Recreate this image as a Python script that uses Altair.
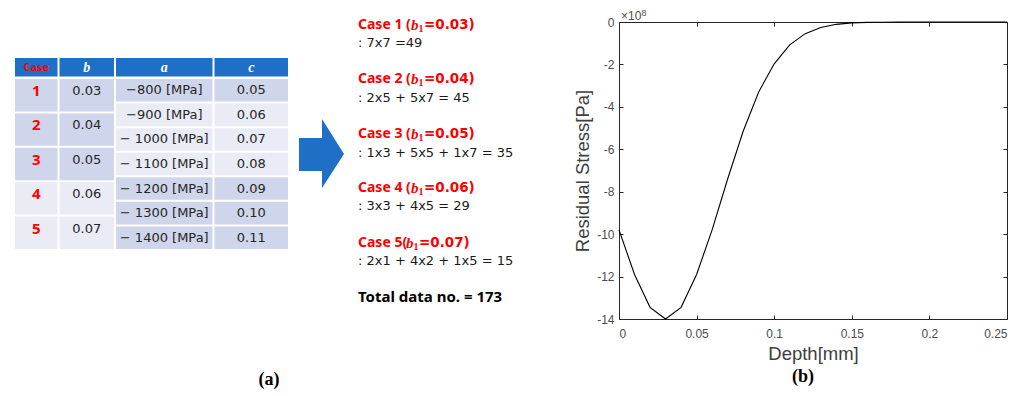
import altair as alt
import pandas as pd

# ------------------------------------------------------------------ data
headers = ["Case", "b", "a", "c"]
cases = ["1", "2", "3", "4", "5"]
b_vals = ["0.03", "0.04", "0.05", "0.06", "0.07"]
a_vals = ["−800 [MPa]", "−900 [MPa]", "− 1000 [MPa]", "− 1100 [MPa]",
          "− 1200 [MPa]", "− 1300 [MPa]", "− 1400 [MPa]"]
c_vals = ["0.05", "0.06", "0.07", "0.08", "0.09", "0.10", "0.11"]

case_titles = ["Case 1 (", "Case 2 (", "Case 3 (", "Case 4 (", "Case 5("]
b1_texts = ["=0.03)", "=0.04)", "=0.05)", "=0.06)", "=0.07)"]
case_formulas = [": 7x7 =49", ": 2x5 + 5x7 = 45", ": 1x3 + 5x5 + 1x7 = 35",
                 ": 3x3 + 4x5 = 29", ": 2x1 + 4x2 + 1x5 = 15"]
total_text = "Total data no. = 173"

depth = [0.00, 0.01, 0.02, 0.03, 0.04, 0.05, 0.06, 0.07, 0.08, 0.09, 0.10,
         0.11, 0.12, 0.13, 0.14, 0.15, 0.16, 0.17, 0.18, 0.19, 0.20, 0.21,
         0.22, 0.23, 0.24, 0.25]
stress_e8 = [-9.8, -11.9, -13.45, -14.0, -13.45, -11.9, -9.8, -7.4, -5.15,
             -3.3, -1.97, -1.08, -0.55, -0.26, -0.11, -0.04, -0.02, -0.01,
             0, 0, 0, 0, 0, 0, 0, 0]
x_ticks = [0, 0.05, 0.1, 0.15, 0.2, 0.25]
y_ticks = [-14, -12, -10, -8, -6, -4, -2, 0]

# ------------------------------------------------------------------ layout / style
TOP = 21          # page y of the plot top
LEFT = 8
W1, H1 = 610, 367
col_edges = [13, 57.5, 114, 212.5, 288]
head_top, head_bot = 57, 76.5
body_top, body_bot = 77, 249
GAP = 1.0
HEAD = "#1E6FC5"
DARK = "#CFD5EA"
LIGHT = "#E9EBF5"
RED = "#FF0000"
case_fill = [DARK, DARK, DARK, LIGHT, LIGHT]
ac_fill = [DARK, LIGHT, LIGHT, LIGHT, DARK, DARK, DARK]
red_y = [23.5, 78, 133, 187, 242]
blk_y = [42, 97, 152, 205, 260]
b_x = [410, 410, 410, 410, 405]
TXT_X = 357

xs = alt.Scale(domain=[LEFT, LEFT + W1], nice=False, zero=False)
ys = alt.Scale(domain=[TOP, TOP + H1], nice=False, zero=False, reverse=True)


def X(f="x"):
    return alt.X(f"{f}:Q", scale=xs, axis=None)


def Y(f="y"):
    return alt.Y(f"{f}:Q", scale=ys, axis=None)


# cells
cells = []
for j in range(4):
    cells.append(dict(x=col_edges[j] + GAP, x2=col_edges[j + 1] - GAP,
                      y=head_top, y2=head_bot - GAP, fill=HEAD))
ch = (body_bot - body_top) / len(cases)
rh = (body_bot - body_top) / len(a_vals)
for i in range(len(cases)):
    for j in range(2):
        cells.append(dict(x=col_edges[j] + GAP, x2=col_edges[j + 1] - GAP,
                          y=body_top + i * ch + GAP, y2=body_top + (i + 1) * ch - GAP,
                          fill=case_fill[i]))
for i in range(len(a_vals)):
    for j in range(2, 4):
        cells.append(dict(x=col_edges[j] + GAP, x2=col_edges[j + 1] - GAP,
                          y=body_top + i * rh + GAP, y2=body_top + (i + 1) * rh - GAP,
                          fill=ac_fill[i]))
cells_df = pd.DataFrame(cells)
rects = alt.Chart(cells_df).mark_rect().encode(
    x=X(), x2="x2:Q", y=Y(), y2="y2:Q", color=alt.Color("fill:N", scale=None))

centers = [(col_edges[j] + col_edges[j + 1]) / 2 for j in range(4)]
head_mid = (head_top + head_bot) / 2


def text_layer(df, **kw):
    base = dict(baseline="middle", align="center")
    base.update(kw)
    return alt.Chart(df).mark_text(**base).encode(x=X(), y=Y(), text="text:N")


hdr_case = text_layer(pd.DataFrame({"x": [centers[0]], "y": [head_mid], "text": [headers[0]]}),
                      font="Noto Sans", fontWeight="bold", fontSize=11, color=RED)
hdr_vars = text_layer(pd.DataFrame({"x": centers[1:], "y": [head_mid] * 3, "text": headers[1:]}),
                      font="Liberation Serif", fontWeight="bold", fontStyle="italic",
                      fontSize=14, color="white")
case_y = [body_top + i * ch + 13 for i in range(len(cases))]
case_txt = text_layer(pd.DataFrame({"x": [centers[0]] * 5, "y": case_y, "text": cases}),
                      font="Noto Sans", fontWeight="bold", fontSize=15, color=RED)
b_txt = text_layer(pd.DataFrame({"x": [centers[1]] * 5, "y": case_y, "text": b_vals}),
                   font="DejaVu Sans", fontSize=13, color="#262626")
row_y = [body_top + (i + 0.5) * rh for i in range(len(a_vals))]
a_txt = text_layer(pd.DataFrame({"x": [centers[2]] * 7, "y": row_y, "text": a_vals}),
                   font="DejaVu Sans", fontSize=13, color="#262626")
c_txt = text_layer(pd.DataFrame({"x": [centers[3]] * 7, "y": row_y, "text": c_vals}),
                   font="DejaVu Sans", fontSize=13, color="#262626")

# arrow
shaft = alt.Chart(pd.DataFrame({"x": [298], "x2": [321.5], "y": [137], "y2": [170]})).mark_rect(
    color=HEAD).encode(x=X(), x2="x2:Q", y=Y(), y2="y2:Q")
head = alt.Chart(pd.DataFrame({"x": [321, 343], "y": [118, 153], "y2": [187, 153]})).mark_area(
    color=HEAD, orient="vertical").encode(x=X(), y=Y(), y2="y2:Q")

# case lines
n = len(case_titles)
pre = text_layer(pd.DataFrame({"x": [TXT_X] * n, "y": red_y, "text": case_titles}),
                 align="left", font="Noto Sans", fontWeight="bold", fontSize=14, color=RED)
bb = text_layer(pd.DataFrame({"x": b_x, "y": red_y, "text": ["b"] * n}),
                align="left", font="Liberation Serif", fontWeight="bold", fontStyle="italic",
                fontSize=15, color=RED)
sub = text_layer(pd.DataFrame({"x": [v + 7.5 for v in b_x], "y": [v + 4 for v in red_y],
                               "text": ["1"] * n}),
                 align="left", font="Liberation Serif", fontWeight="bold", fontSize=10, color=RED)
eq = text_layer(pd.DataFrame({"x": [v + 13 for v in b_x], "y": red_y, "text": b1_texts}),
                align="left", font="DejaVu Sans", fontWeight="bold", fontSize=13.5, color=RED)
frm = text_layer(pd.DataFrame({"x": [TXT_X] * n, "y": blk_y, "text": case_formulas}),
                 align="left", font="DejaVu Sans", fontSize=13, color="#1a1a1a")
tot = text_layer(pd.DataFrame({"x": [TXT_X], "y": [296], "text": [total_text]}),
                 align="left", font="Noto Sans", fontWeight="bold", fontSize=15, color="black")
cap_a = text_layer(pd.DataFrame({"x": [268], "y": [379], "text": ["(a)"]}),
                   font="Liberation Serif", fontWeight="bold", fontSize=18, color="black")

left = alt.layer(rects, hdr_case, hdr_vars, case_txt, b_txt, a_txt, c_txt,
                 shaft, head, pre, bb, sub, eq, frm, tot, cap_a).properties(
    width=W1, height=H1, view=alt.ViewBackground(stroke="transparent"))

# ------------------------------------------------------------------ line chart
df_line = pd.DataFrame({"depth": depth, "stress": stress_e8})
xsc = alt.Scale(domain=[0, 0.25], nice=False, zero=False)
ysc = alt.Scale(domain=[-14, 0], nice=False, zero=False)
lab = "'' + datum.value"

line = alt.Chart(df_line).mark_line(color="black", strokeWidth=1.1).encode(
    x=alt.X("depth:Q", scale=xsc, title="Depth[mm]",
            axis=alt.Axis(values=x_ticks, labelExpr=lab, offset=-4, tickSize=4,
                          domain=False, labelPadding=9, titlePadding=5)),
    y=alt.Y("stress:Q", scale=ysc, title="Residual Stress[Pa]",
            axis=alt.Axis(values=y_ticks, labelExpr=lab, offset=-4, tickSize=4,
                          domain=False, labelPadding=5, titlePadding=4)))
frame = alt.Chart(df_line).mark_line(opacity=0).encode(
    x=alt.X("depth:Q", scale=xsc, title=None,
            axis=alt.Axis(orient="top", values=x_ticks, labels=False, offset=-4,
                          tickSize=4, domain=False)),
    y=alt.Y("stress:Q", scale=ysc, title=None,
            axis=alt.Axis(orient="right", values=y_ticks, labels=False, offset=-4,
                          tickSize=4, domain=False)))
sci = alt.Chart(pd.DataFrame({"t": ["×10"]})).mark_text(
    align="left", baseline="alphabetic", font="Liberation Sans", fontSize=12,
    color="#4d4d4d").encode(x=alt.value(2), y=alt.value(-2), text="t:N")
sup = alt.Chart(pd.DataFrame({"t": ["8"]})).mark_text(
    align="left", baseline="alphabetic", font="Liberation Sans", fontSize=9,
    color="#4d4d4d").encode(x=alt.value(22.5), y=alt.value(-6), text="t:N")

right = alt.layer(line, frame, sci, sup).resolve_scale(
    x="independent", y="independent").properties(
    width=388, height=297,
    title=alt.TitleParams("(b)", orient="bottom", font="Liberation Serif", fontSize=18,
                          fontWeight="bold", color="black", offset=5, dx=-10))

chart = alt.hconcat(left, right, spacing=0, bounds="flush").properties(
    padding=0).configure_view(stroke="#262626").configure_axis(
    labelFont="Liberation Sans", labelFontSize=12, labelColor="#4d4d4d",
    titleFont="Liberation Sans", titleFontSize=18.5, titleFontWeight="normal",
    titleColor="#404040", tickColor="#262626", grid=False)

chart.save("out.html", embed_options={"renderer": "svg", "actions": False})
